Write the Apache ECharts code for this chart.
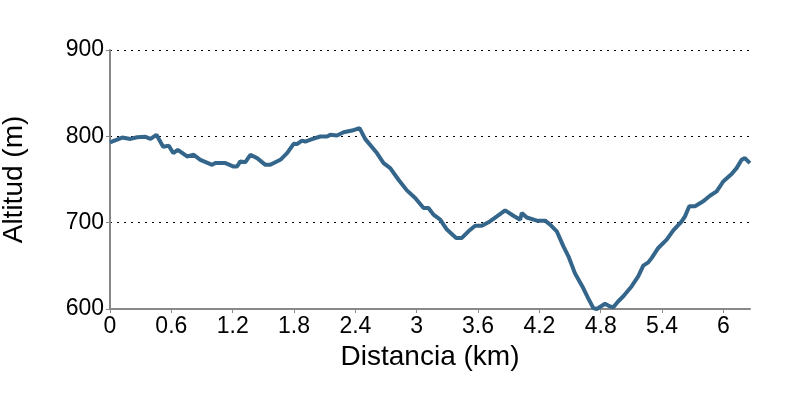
<!DOCTYPE html>
<html>
<head>
<meta charset="utf-8">
<script src="https://cdn.jsdelivr.net/npm/echarts@6/dist/echarts.min.js"></script>
<style>html,body{margin:0;padding:0;background:#fff}#c{width:800px;height:400px}</style>
</head>
<body>
<div id="c"></div>
<script>
const distanciaKm = [0,0.119,0.2,0.266,0.347,0.396,0.454,0.52,0.575,0.618,0.663,0.754,0.819,0.884,0.999,1.031,1.129,1.21,1.243,1.275,1.324,1.373,1.439,1.52,1.568,1.666,1.732,1.796,1.829,1.878,1.91,1.976,2.057,2.123,2.155,2.22,2.285,2.367,2.441,2.497,2.611,2.676,2.741,2.822,2.904,2.985,3.067,3.115,3.164,3.23,3.295,3.386,3.442,3.506,3.572,3.637,3.702,3.784,3.865,3.946,4.012,4.028,4.077,4.175,4.256,4.305,4.37,4.435,4.484,4.549,4.63,4.679,4.728,4.761,4.842,4.891,4.923,4.972,5.021,5.103,5.168,5.216,5.265,5.299,5.363,5.445,5.51,5.592,5.624,5.666,5.722,5.803,5.868,5.934,5.998,6.08,6.129,6.178,6.21,6.259];
const altitudM = [793,798.6,797,799,799.4,797,801.7,788,789,780.6,784.4,776.7,778.6,772.8,767,769,769,765,765,771,770,778.6,774.8,767,767,772.8,780.6,791.3,791,795,794,796.8,799.8,799.8,801.7,801,804.8,806.7,809.5,796.8,780.6,769,763.2,749.7,737.4,728.6,717,717,709.3,703.5,692,682.3,682.3,690,696.5,696.5,700.4,707.3,714.3,708,703.5,711.2,706,702.3,702.3,697.7,690,672.6,661,641,624,612,601,600,606,603,602,609,614.8,626.4,638,650.3,654,659.2,670.7,680.3,691,701.5,707.3,719,719,724.7,731.2,736.2,747.7,756.3,763.2,772.8,774.8,769];
const xTicks = [0,0.6,1.2,1.8,2.4,3,3.6,4.2,4.8,5.4,6];
const yTicks = [600,700,800,900];

const chart = echarts.init(document.getElementById('c'), null, {renderer:'canvas'});
const font = 'Liberation Sans, Arial, sans-serif';
chart.setOption({
  animation:false,
  backgroundColor:'#fff',
  grid:{left:110,right:50,top:50,bottom:91,containLabel:false,outerBoundsMode:'none'},
  xAxis:{
    type:'value', min:0, max:6.26,
    name:'Distancia (km)', nameLocation:'middle', nameGap:32,
    nameTextStyle:{fontFamily:font,fontSize:28,color:'#000'},
    axisLine:{lineStyle:{color:'#888',width:2}},
    axisTick:{show:true,length:4,lineStyle:{color:'#888'},customValues:xTicks},
    axisLabel:{fontFamily:font,fontSize:23,color:'#000',margin:6,customValues:xTicks,
      formatter:v=>String(+v.toFixed(1))},
    splitLine:{show:false}
  },
  yAxis:{
    type:'value', min:600, max:900, interval:100,
    name:'Altitud (m)', nameLocation:'middle', nameGap:82,
    nameTextStyle:{fontFamily:font,fontSize:28,color:'#000'},
    axisLine:{show:true,lineStyle:{color:'#888',width:2}},
    axisTick:{show:true,length:4,lineStyle:{color:'#888'}},
    axisLabel:{fontFamily:font,fontSize:23,color:'#000',margin:6,
      customValues:yTicks},
    splitLine:{show:true,lineStyle:{color:'#000',type:[2,5],width:1}}
  },
  series:[{
    type:'line',
    data:distanciaKm.map((d,i)=>[d,altitudM[i]]),
    showSymbol:false,
    lineStyle:{color:'#34668b',width:4},
    z:3
  }]
});
</script>
</body>
</html>
